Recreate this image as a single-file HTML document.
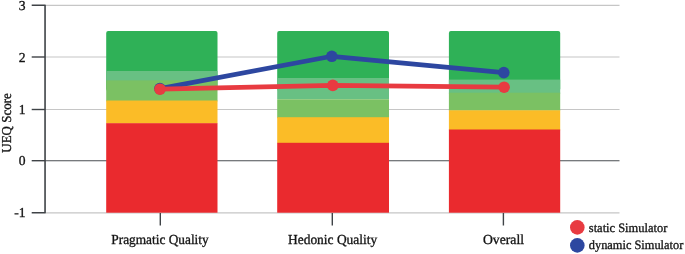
<!DOCTYPE html>
<html><head><meta charset="utf-8">
<style>
html,body{margin:0;padding:0;background:#fff;}
svg{display:block;}
text{text-rendering:geometricPrecision;font-family:"Liberation Serif",serif;fill:#141414;stroke:#141414;stroke-width:0.32px;}
</style></head><body>
<svg width="685" height="254" viewBox="0 0 685 254">
<rect width="685" height="254" fill="#fff"/>
<!-- grid -->
<g stroke="#c6c6c6" stroke-width="1.2">
<line x1="45" y1="5.3" x2="619.5" y2="5.3"/>
<line x1="45" y1="57" x2="619.5" y2="57"/>
<line x1="45" y1="109.5" x2="619.5" y2="109.5"/>
<line x1="45" y1="212.9" x2="619.5" y2="212.9" stroke-width="1.4"/>
</g>
<line x1="45" y1="160.7" x2="619.5" y2="160.7" stroke="#4a4e52" stroke-width="1.1"/>
<!-- bars -->
<g id="b1">
<rect x="106.2" y="31" width="111.3" height="60" rx="2" fill="#2fb157"/>
<rect x="106.2" y="71" width="111.3" height="10" fill="#68c083"/>
<rect x="106.2" y="80.4" width="111.3" height="21" fill="#7bc163"/>
<rect x="106.2" y="100.5" width="111.3" height="23" fill="#fbbc27"/>
<rect x="106.2" y="123.2" width="111.3" height="89.5" fill="#ea2a2e"/>
</g>
<g id="b2">
<rect x="277.2" y="31" width="111.8" height="60" rx="2" fill="#2fb157"/>
<rect x="277.2" y="78" width="111.8" height="21" fill="#68c083"/>
<rect x="277.2" y="99.2" width="111.8" height="19" fill="#7bc163"/>
<rect x="277.2" y="117.2" width="111.8" height="26" fill="#fbbc27"/>
<rect x="277.2" y="142.8" width="111.8" height="69.9" fill="#ea2a2e"/>
</g>
<g id="b3">
<rect x="448.9" y="31" width="111.3" height="60" rx="2" fill="#2fb157"/>
<rect x="448.9" y="79.6" width="111.3" height="14" fill="#68c083"/>
<rect x="448.9" y="92.7" width="111.3" height="18" fill="#7bc163"/>
<rect x="448.9" y="110.3" width="111.3" height="20" fill="#fbbc27"/>
<rect x="448.9" y="129.5" width="111.3" height="83.2" fill="#ea2a2e"/>
</g>
<!-- axes -->
<g stroke="#3f4347" stroke-width="1.4" fill="none">
<polyline points="31.7,5.3 45.05,5.3 45.05,212.8 31.7,212.8" stroke-width="1.6" stroke-linejoin="round"/>
<line x1="31.7" y1="57" x2="45" y2="57"/>
<line x1="31.7" y1="109.5" x2="45" y2="109.5"/>
<line x1="31.7" y1="160.7" x2="45" y2="160.7"/>
<line x1="160.3" y1="213" x2="160.3" y2="225.5"/>
<line x1="332.3" y1="213" x2="332.3" y2="225.5"/>
<line x1="503.4" y1="213" x2="503.4" y2="225.5"/>
</g>
<!-- lines -->
<polyline points="159.9,88.6 331.8,56.3 503.8,72.6" fill="none" stroke="#2d47a0" stroke-width="4.7" stroke-linejoin="round"/>
<circle cx="159.9" cy="88.6" r="5.8" fill="#2d47a0"/>
<circle cx="331.8" cy="56.3" r="5.8" fill="#2d47a0"/>
<circle cx="503.8" cy="72.6" r="5.8" fill="#2d47a0"/>
<polyline points="160,89.2 332.8,85.4 504.1,87.2" fill="none" stroke="#e83b41" stroke-width="4.7" stroke-linejoin="round"/>
<circle cx="160" cy="89.2" r="5.8" fill="#e83b41"/>
<circle cx="332.8" cy="85.4" r="5.8" fill="#e83b41"/>
<circle cx="504.1" cy="87.2" r="5.8" fill="#e83b41"/>
<!-- labels -->
<g font-size="13.6" text-anchor="end">
<text x="25.5" y="9.8">3</text>
<text x="25.5" y="61.5">2</text>
<text x="25.5" y="113.6">1</text>
<text x="25.5" y="165.1">0</text>
<text x="25.5" y="217.2">-1</text>
</g>
<text font-size="13.6" text-anchor="middle" transform="translate(10.9,123) rotate(-90)" textLength="59.5" lengthAdjust="spacingAndGlyphs">UEQ Score</text>
<g font-size="13.8" text-anchor="middle" lengthAdjust="spacingAndGlyphs">
<text x="160" y="243.6" textLength="97.4" lengthAdjust="spacingAndGlyphs">Pragmatic Quality</text>
<text x="332.6" y="243.6" textLength="89.2" lengthAdjust="spacingAndGlyphs">Hedonic Quality</text>
<text x="503.5" y="243.6" textLength="41" lengthAdjust="spacingAndGlyphs">Overall</text>
</g>
<circle cx="577.3" cy="227.4" r="7.3" fill="#e83b41"/>
<circle cx="577.3" cy="245.4" r="7.3" fill="#2d47a0"/>
<text font-size="12.8" x="588.8" y="231.8" textLength="78.5" lengthAdjust="spacingAndGlyphs">static Simulator</text>
<text font-size="12.8" x="588.8" y="249.2" textLength="94.5" lengthAdjust="spacingAndGlyphs">dynamic Simulator</text>
</svg>
</body></html>
